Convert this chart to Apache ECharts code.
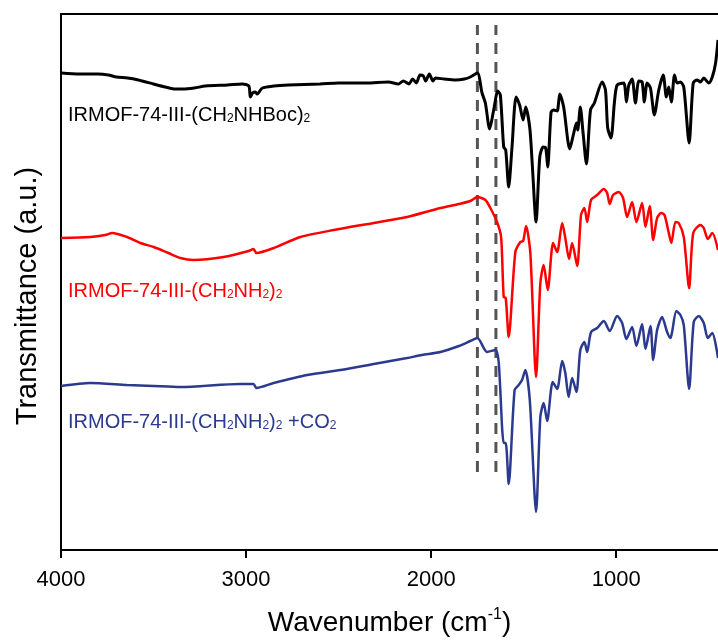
<!DOCTYPE html>
<html>
<head>
<meta charset="utf-8">
<script src="https://cdn.jsdelivr.net/npm/echarts@6/dist/echarts.min.js"></script>
<style>
  html, body { margin: 0; padding: 0; background: #fff; }
  #chart { width: 718px; height: 640px; }
</style>
</head>
<body>
<div id="chart"></div>
<script>
// wavenumber ticks (cm-1)
var xTicks = [4000, 3000, 2000, 1000];

// dashed guide lines (cm-1)
var guideLines = [1750, 1650];
var guideRange = [78, 525];

// IRMOF-74-III-(CH2NHBoc)2  [wavenumber, transmittance a.u.]
var bocData = [
  [4000,477],[3900,476],[3800,476],[3744,475],[3700,473],[3640,472],[3582,470],[3500,466],
  [3436,463],[3380,461],[3344,461],[3280,462],[3220,464],[3100,465],[3020,466],[2985,464],
  [2977,453],[2965,457],[2950,458],[2940,456],[2912,462],[2850,464],[2771,465],[2600,466],
  [2501,467],[2350,467],[2231,468],[2177,466],[2150,469],[2120,466],[2100,471],[2080,467],
  [2060,475],[2042,474],[2030,469],[2010,476],[1990,469],[1977,472],[1930,471],[1869,470],
  [1820,471],[1788,473],[1750,477],[1725,457],[1707,447],[1684,421],[1662,440],[1640,459],
  [1626,455],[1608,403],[1597,400],[1581,363],[1563,403],[1541,453],[1522,445],[1503,430],
  [1489,443],[1467,422],[1454,387],[1433,328],[1413,393],[1395,403],[1381,402],[1370,383],
  [1352,438],[1338,440],[1319,439],[1305,456],[1284,443],[1251,401],[1233,414],[1215,427],
  [1208,420],[1194,443],[1179,417],[1161,386],[1139,440],[1118,447],[1076,468],[1058,460],
  [1046,422],[1028,412],[1010,447],[995,465],[959,467],[945,448],[932,465],[914,471],
  [896,447],[878,469],[860,468],[848,448],[833,467],[815,462],[794,435],[770,460],
  [746,475],[729,453],[716,463],[702,448],[685,475],[671,467],[653,468],[635,463],
  [606,407],[584,467],[563,470],[545,468],[527,472],[500,467],[481,473],[463,487],[450,510]
];

// IRMOF-74-III-(CH2NH2)2
var nh2Data = [
  [4000,312],[3842,313],[3760,315],[3724,317],[3643,313],[3571,307],[3499,303],[3420,297],
  [3355,292],[3283,290],[3121,293],[2986,299],[2960,301],[2944,297],[2851,302],[2706,313],
  [2526,320],[2310,327],[2130,333],[1950,342],[1850,346],[1788,349],[1750,353],[1707,350],
  [1680,342],[1644,328],[1622,313],[1608,253],[1597,252],[1581,213],[1545,298],[1518,308],
  [1503,309],[1487,324],[1464,297],[1433,173],[1410,267],[1392,285],[1370,260],[1341,307],
  [1319,298],[1292,327],[1275,312],[1255,291],[1238,307],[1211,284],[1190,335],[1172,342],
  [1157,328],[1136,350],[1103,355],[1067,361],[1049,357],[1035,346],[1017,355],[986,358],
  [963,352],[941,333],[914,348],[891,328],[860,347],[842,323],[819,344],[800,310],
  [779,332],[757,337],[739,335],[716,317],[702,307],[680,328],[662,327],[635,313],
  [606,262],[584,317],[545,325],[527,322],[505,311],[481,317],[450,300]
];

// IRMOF-74-III-(CH2NH2)2 + CO2
var co2Data = [
  [4000,164],[3842,167],[3643,165],[3500,164],[3355,163],[3031,166],[2960,166],[2944,162],
  [2851,167],[2670,175],[2490,180],[2310,186],[2130,192],[2050,195],[1950,198],[1850,204],
  [1788,209],[1750,212],[1698,198],[1653,200],[1635,188],[1608,107],[1597,107],[1581,66],
  [1549,160],[1527,165],[1509,170],[1491,180],[1467,150],[1433,38],[1410,133],[1392,147],
  [1373,129],[1343,168],[1319,161],[1292,189],[1275,177],[1257,153],[1238,172],[1215,158],
  [1194,200],[1172,208],[1157,198],[1136,218],[1103,222],[1067,229],[1035,219],[995,234],
  [968,227],[945,211],[914,223],[891,204],[860,226],[842,201],[815,224],[800,190],
  [779,220],[752,233],[725,218],[707,212],[698,218],[675,239],[653,235],[635,225],
  [606,161],[581,228],[554,234],[527,227],[505,212],[481,217],[450,192]
];

var FONT = 'Liberation Sans';

var chart = echarts.init(document.getElementById('chart'), null, { renderer: 'canvas' });

var guideSeries = guideLines.map(function (wn) {
  return {
    type: 'line',
    data: [[wn, guideRange[0]], [wn, guideRange[1]]],
    symbol: 'none',
    silent: true,
    z: 1,
    lineStyle: { color: '#555555', width: 3, type: [11, 8] }
  };
});

function spectrum(data, color, width) {
  return {
    type: 'line',
    data: data,
    symbol: 'none',
    smooth: 0.25,
    z: 3,
    lineStyle: { color: color, width: width }
  };
}

var subRich = {
  s: { fontSize: 12, fontFamily: FONT, verticalAlign: 'bottom', lineHeight: 11 }
};

function label(text, top, color) {
  return {
    type: 'text',
    left: 68,
    top: top,
    style: {
      text: text,
      fill: color,
      fontSize: 20,
      fontFamily: FONT,
      rich: subRich
    }
  };
}

chart.setOption({
  animation: false,
  grid: { left: 61, right: 0, top: 14, bottom: 90, outerBoundsMode: 'none', containLabel: false },
  xAxis: [{
    type: 'value',
    inverse: true,
    min: 450,
    max: 4000,
    splitLine: { show: false },
    axisLine: { lineStyle: { color: '#000', width: 2 } },
    axisTick: { customValues: xTicks, length: 8, lineStyle: { color: '#000', width: 2 } },
    axisLabel: {
      customValues: xTicks,
      color: '#000',
      fontSize: 22,
      fontFamily: FONT,
      margin: 19,
      formatter: function (v) { return String(v); }
    },
    name: '{a|Wavenumber (cm}{b|-1}{a|)}',
    nameLocation: 'middle',
    nameGap: 57,
    nameTextStyle: {
      rich: {
        a: { fontSize: 28, fontFamily: FONT, color: '#000' },
        b: { fontSize: 16, fontFamily: FONT, color: '#000', verticalAlign: 'top', lineHeight: 32 }
      }
    }
  }, {
    type: 'value',
    position: 'top',
    inverse: true,
    min: 450,
    max: 4000,
    splitLine: { show: false },
    axisLine: { lineStyle: { color: '#000', width: 2 } },
    axisTick: { show: false },
    axisLabel: { show: false }
  }],
  yAxis: {
    type: 'value',
    min: 0,
    max: 536,
    splitLine: { show: false },
    axisTick: { show: false },
    axisLabel: { show: false },
    axisLine: { show: true, lineStyle: { color: '#000', width: 2 } },
    name: 'Transmittance (a.u.)',
    nameLocation: 'middle',
    nameGap: 19,
    nameTextStyle: { fontSize: 29, fontFamily: FONT, color: '#000', padding: [0, 28, 0, 0] }
  },
  series: guideSeries.concat([
    spectrum(bocData, '#000000', 3),
    spectrum(nh2Data, '#ff0000', 2.5),
    spectrum(co2Data, '#2b3a8f', 2.5)
  ]),
  graphic: [
    label('IRMOF-74-III-(CH{s|2}NHBoc){s|2}', 105, '#000000'),
    label('IRMOF-74-III-(CH{s|2}NH{s|2}){s|2}', 281, '#ff0000'),
    label('IRMOF-74-III-(CH{s|2}NH{s|2}){s|2} +CO{s|2}', 412, '#2b3a8f')
  ]
});
</script>
</body>
</html>
